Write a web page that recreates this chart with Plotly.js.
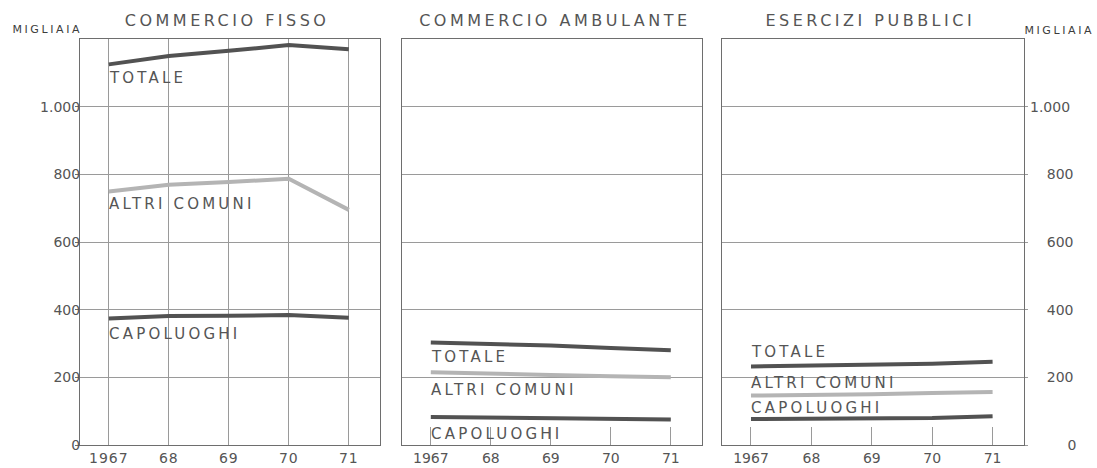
<!DOCTYPE html>
<html>
<head>
<meta charset="utf-8">
<script src="https://cdn.plot.ly/plotly-3.0.1.min.js"></script>
<style>
    body { margin: 0; background: #fff; }
    #chart { width: 1097px; height: 468px; }
    /* the printed lettering is wide-spaced stencil type */
    .annotation-text { letter-spacing: 3.2px; }
    .annotation[data-index="0"] .annotation-text,
    .annotation[data-index="1"] .annotation-text,
    .annotation[data-index="2"] .annotation-text { letter-spacing: 3.5px; }
    .annotation[data-index="3"] .annotation-text,
    .annotation[data-index="4"] .annotation-text { letter-spacing: 2.6px; }
    .annotation[data-index="5"] .annotation-text,
    .annotation[data-index="6"] .annotation-text,
    .annotation[data-index="7"] .annotation-text,
    .annotation[data-index="8"] .annotation-text,
    .annotation[data-index="9"] .annotation-text,
    .annotation[data-index="10"] .annotation-text { letter-spacing: 0px; }
    .xtick text { letter-spacing: 1px; }
</style>
</head>
<body>
<div id="chart"></div>
<script>
// ===================== DATA =====================
// Thousands of establishments, 1967-1971

const years = [1967, 1968, 1969, 1970, 1971];
const yearLabels = ['1967', '68', '69', '70', '71'];

const fissoTotale = [1125, 1150, 1165, 1182, 1170];
const fissoAltri  = [749, 769, 777, 787, 695];
const fissoCapo   = [374, 381, 382, 384, 376];

const ambTotale = [303, 299, 294, 287, 280];
const ambAltri  = [215, 212, 207, 203, 200];
const ambCapo   = [83, 81, 79, 77, 75];

const eserTotale = [232, 234, 236, 240, 246];
const eserAltri  = [146, 147, 150, 154, 157];
const eserCapo   = [77, 78, 78, 80, 85];

const panelTitles = ['COMMERCIO FISSO', 'COMMERCIO AMBULANTE', 'ESERCIZI PUBBLICI'];
const seriesNames = ['TOTALE', 'ALTRI COMUNI', 'CAPOLUOGHI'];

const yTicks = [0, 200, 400, 600, 800, 1000];
const yTickText = ['0', '200', '400', '600', '800', '1.000'];

// label heights (data units) for each panel: totale, altri, capoluoghi
const labelY = [
    [1086, 712, 327],
    [260, 162, 34],
    [275, 184, 109]
];

// ===================== STYLE =====================
const DARK = '#525252';
const LIGHT = '#b4b4b4';
const GRID = '#9a9a9a';
const FRAME = '#6e6e6e';
const TEXT = '#555555';
const FONT = 'DejaVu Sans, sans-serif';
const W = 1097, H = 468;

const panels = [
    { x: 'x',  y: 'y',  data: [fissoTotale, fissoAltri, fissoCapo] },
    { x: 'x2', y: 'y2', data: [ambTotale, ambAltri, ambCapo] },
    { x: 'x3', y: 'y3', data: [eserTotale, eserAltri, eserCapo] }
];

// ===================== TRACES =====================
const traces = [];
panels.forEach(function (p) {
    p.data.forEach(function (vals, i) {
        traces.push({
            x: years,
            y: vals,
            xaxis: p.x,
            yaxis: p.y,
            type: 'scatter',
            mode: 'lines',
            line: { color: i === 1 ? LIGHT : DARK, width: 4 },
            hoverinfo: 'skip',
            showlegend: false
        });
    });
});

// ===================== AXES =====================
const yDomain = [(H - 445) / H, (H - 39) / H];
const xDomains = [
    [80 / W, 380 / W],
    [402 / W, 702 / W],
    [722 / W, 1024 / W]
];

function xAxis(i) {
    return {
        domain: xDomains[i],
        range: [1966.52, 1971.52],
        tickvals: years,
        ticktext: yearLabels,
        showgrid: i === 0,
        gridcolor: GRID,
        gridwidth: 1,
        ticks: i === 0 ? '' : 'inside',
        ticklen: 18,
        tickcolor: GRID,
        tickwidth: 1,
        ticklabelstandoff: 0,
        showline: true,
        mirror: true,
        linecolor: FRAME,
        linewidth: 1,
        zeroline: false,
        tickfont: { family: FONT, size: 14, color: TEXT },
        fixedrange: true
    };
}

function yAxis(i) {
    const ax = {
        domain: yDomain,
        range: [0, 1200],
        tickvals: yTicks,
        ticktext: yTickText,
        showgrid: true,
        gridcolor: GRID,
        gridwidth: 1,
        showline: true,
        mirror: true,
        linecolor: FRAME,
        linewidth: 1,
        zeroline: false,
        ticks: '',
        showticklabels: false,
        tickfont: { family: FONT, size: 14, color: TEXT },
        fixedrange: true
    };
    if (i > 0) ax.anchor = 'x' + (i + 1);
    if (i === 0) {
        ax.showticklabels = true;
        ax.ticks = 'outside';
        ax.ticklen = 4;
        ax.tickcolor = FRAME;
        ax.ticklabelstandoff = -8;
    }
    if (i === 2) {
        ax.side = 'right';
        ax.ticks = 'outside';
        ax.ticklen = 3;
        ax.tickcolor = GRID;
    }
    return ax;
}

// ===================== ANNOTATIONS =====================
const annotations = [];

// panel titles (indices 0-2)
const titleX = [227, 555, 870];
panelTitles.forEach(function (t, i) {
    annotations.push({
        xref: 'paper', yref: 'paper',
        x: titleX[i] / W, y: (H - 21) / H,
        xanchor: 'center', yanchor: 'middle',
        text: t, showarrow: false,
        font: { family: FONT, size: 16, color: TEXT }
    });
});

// units (indices 3-4)
annotations.push({
    xref: 'paper', yref: 'paper', x: 47 / W, y: (H - 29) / H,
    xanchor: 'center', yanchor: 'middle', text: 'MIGLIAIA', showarrow: false,
    font: { family: FONT, size: 11, color: '#3c3c3c' }
});
annotations.push({
    xref: 'paper', yref: 'paper', x: 1059 / W, y: (H - 31) / H,
    xanchor: 'center', yanchor: 'middle', text: 'MIGLIAIA', showarrow: false,
    font: { family: FONT, size: 11, color: '#3c3c3c' }
});

// right-hand tick labels, right aligned like the print (indices 5-10)
yTicks.forEach(function (v, k) {
    annotations.push({
        xref: 'paper', yref: 'y3', x: 1080 / W, y: v,
        xanchor: 'right', yanchor: 'middle', text: yTickText[k], showarrow: false,
        font: { family: FONT, size: 14, color: TEXT }
    });
});

// series labels inside each panel
panels.forEach(function (p, i) {
    seriesNames.forEach(function (name, j) {
        annotations.push({
            xref: p.x, yref: p.y,
            x: years[0] - 0.03, y: labelY[i][j],
            xanchor: 'left', yanchor: 'middle',
            text: name, showarrow: false,
            font: { family: FONT, size: 15, color: TEXT }
        });
    });
});

// ===================== LAYOUT =====================
const layout = {
    width: W,
    height: H,
    margin: { l: 0, r: 0, t: 0, b: 0 },
    paper_bgcolor: '#fff',
    plot_bgcolor: '#fff',
    showlegend: false,
    xaxis: xAxis(0), xaxis2: xAxis(1), xaxis3: xAxis(2),
    yaxis: yAxis(0), yaxis2: yAxis(1), yaxis3: yAxis(2),
    annotations: annotations
};

Plotly.newPlot('chart', traces, layout, { displayModeBar: false, staticPlot: true });
</script>
</body>
</html>
